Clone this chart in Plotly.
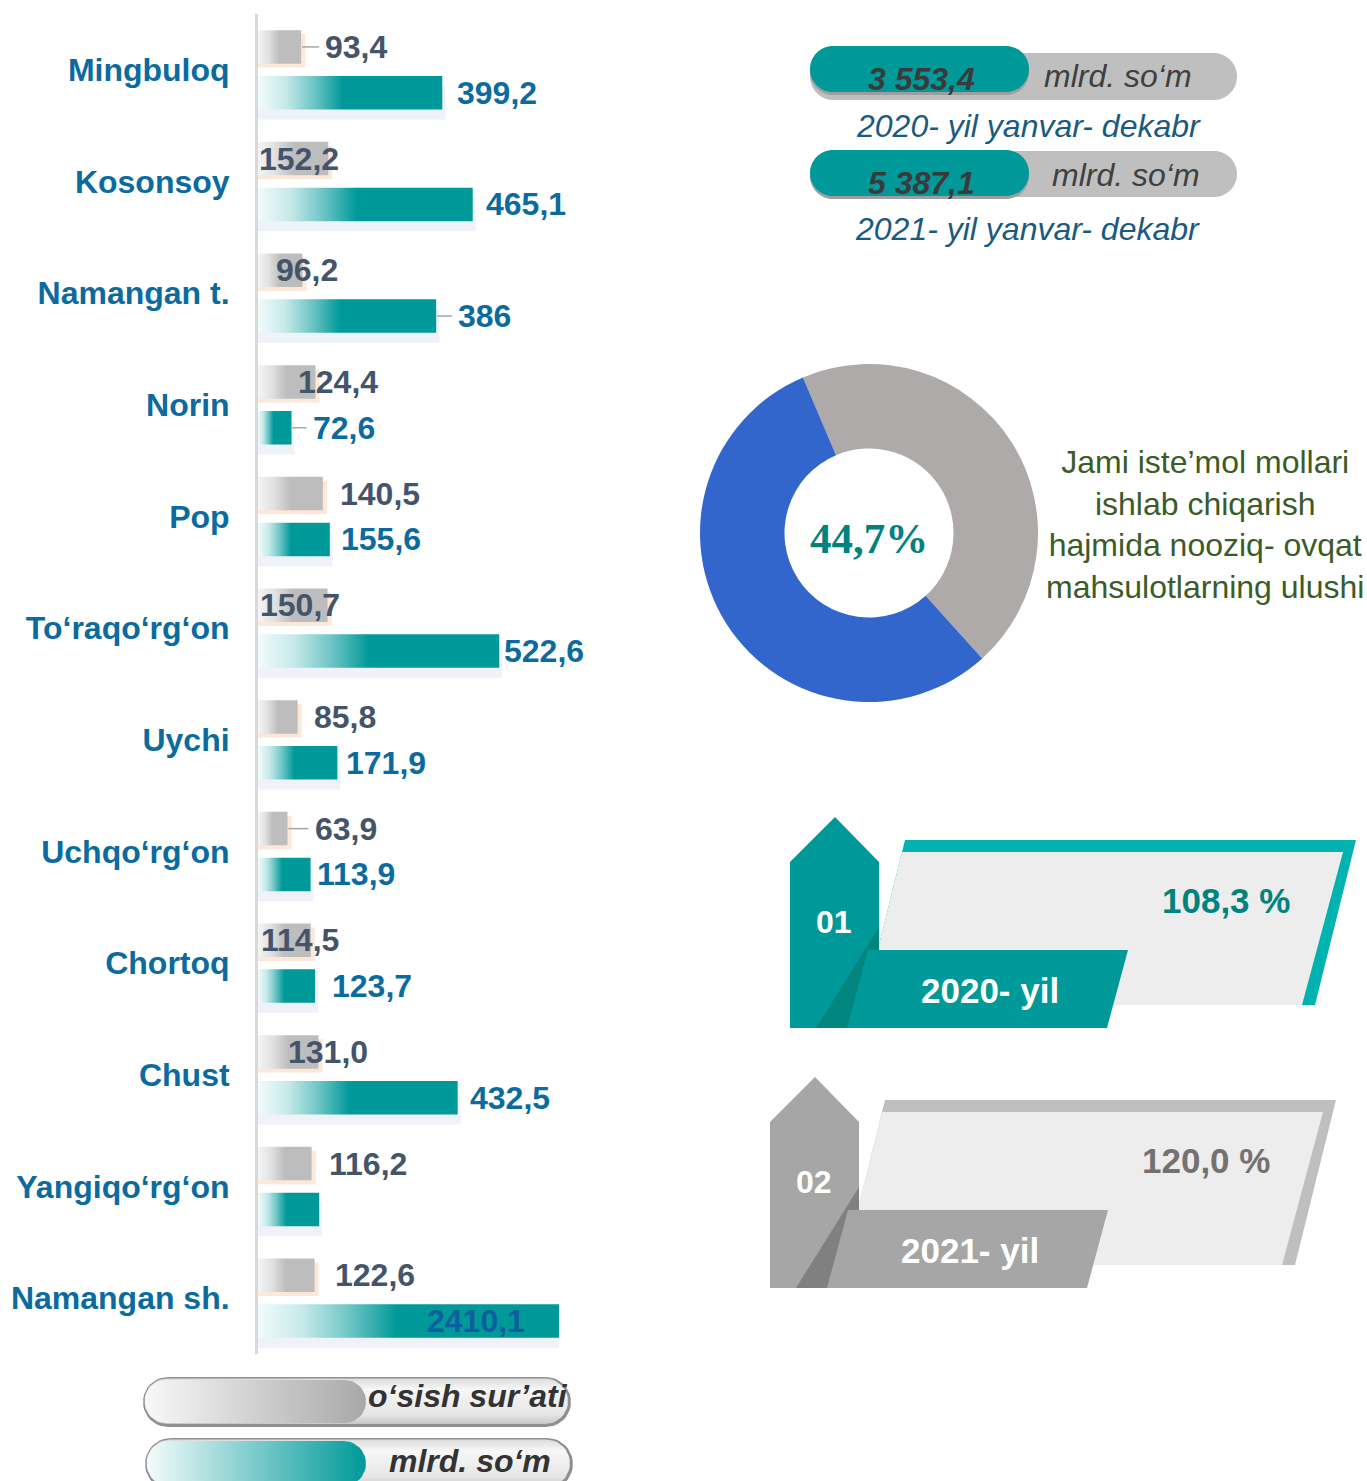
import plotly.graph_objects as go

W, H = 1367, 1481

# ---------------- data ----------------
districts = ["Mingbuloq", "Kosonsoy", "Namangan t.", "Norin", "Pop", "To‘raqo‘rg‘on",
             "Uychi", "Uchqo‘rg‘on", "Chortoq", "Chust", "Yangiqo‘rg‘on", "Namangan sh."]
growth_rate = [93.4, 152.2, 96.2, 124.4, 140.5, 150.7, 85.8, 63.9, 114.5, 131.0, 116.2, 122.6]
volume_bln = [399.2, 465.1, 386.0, 72.6, 155.6, 522.6, 171.9, 113.9, 123.7, 432.5, 132.6, 2410.1]
volume_labels = ["399,2", "465,1", "386", "72,6", "155,6", "522,6", "171,9", "113,9",
                 "123,7", "432,5", "", "2410,1"]

total_periods = ["2020- yil yanvar- dekabr", "2021- yil yanvar- dekabr"]
total_output = [3553.4, 5387.1]
index_years = ["2020- yil", "2021- yil"]
index_numbers = ["01", "02"]
growth_index = [108.3, 120.0]

share_labels = ["Nooziq-ovqat mahsulotlari", "Boshqa mahsulotlar"]
share_values = [44.7, 55.3]
share_text = "Jami iste’mol mollari<br>ishlab chiqarish<br>hajmida nooziq- ovqat<br>mahsulotlarning ulushi"

legend_names = ["o‘sish sur’ati", "mlrd. so‘m"]

# ---------------- style ----------------
FONT = "Liberation Sans, Arial, sans-serif"
TEAL = "#009999"
GRAY = "#bdbdbd"
CAT_COLOR = "#0b6b9f"
GRAY_LBL = "#44546a"
XMAX = 652
BAR_H = 0.30
OFF = 0.205
PX = XMAX / 301.0  # data units per pixel on bar axis
LBL = 32

# label offsets (pixels from bar end) and leader flags
gray_dx = [22, -71, -28, -19, 15, -70, 14, 25, -52, -32, 15, 18]
teal_dx = [13, 11, 20, 19, 9, 3, 7, 4, 15, 10, 0, -32]
gray_leader = [True, False, False, False, False, False, False, True, False, False, False, False]
teal_leader = [False, False, True, True, False, False, False, False, False, False, False, False]


def fmt(v):
    return f"{v:.1f}".replace(".", ",")


def fmt_th(v):
    return f"{v:,.1f}".replace(",", " ").replace(".", ",")


fig = go.Figure()


def rect(v, c, h=BAR_H, extra=0.0):
    return ([0, v + extra, v + extra, 0, 0],
            [c - h / 2, c - h / 2, c + h / 2, c + h / 2, c - h / 2])


# soft shadows behind bars
for i, (g, v) in enumerate(zip(growth_rate, volume_bln)):
    xs, ys = rect(g, i - OFF + 0.035, extra=4 * PX)
    fig.add_trace(go.Scatter(x=xs, y=ys, fill="toself", mode="lines", line=dict(width=0),
                             fillcolor="rgba(250,210,180,0.5)", hoverinfo="skip", showlegend=False))
    xs, ys = rect(v, i + OFF + 0.09, extra=3 * PX)
    fig.add_trace(go.Scatter(x=xs, y=ys, fill="toself", mode="lines", line=dict(width=0),
                             fillcolor="rgba(225,231,244,0.55)", hoverinfo="skip", showlegend=False))

# bars
for i, (g, v) in enumerate(zip(growth_rate, volume_bln)):
    xs, ys = rect(g, i - OFF)
    fig.add_trace(go.Scatter(
        x=xs, y=ys, fill="toself", mode="lines", line=dict(width=0), name=legend_names[0],
        fillgradient=dict(type="horizontal", start=0, stop=min(g, XMAX),
                          colorscale=[[0, "#f5f5f5"], [0.25, "#e0e0e0"], [0.5, GRAY], [1, GRAY]]),
        hoverinfo="skip", showlegend=False))
    xs, ys = rect(v, i + OFF)
    fig.add_trace(go.Scatter(
        x=xs, y=ys, fill="toself", mode="lines", line=dict(width=0), name=legend_names[1],
        fillgradient=dict(type="horizontal", start=0, stop=min(v, XMAX),
                          colorscale=[[0, "#f2fbfb"], [0.15, "#c6e9e9"], [0.3, "#70c6c6"],
                                      [0.46, TEAL], [1, TEAL]]),
        hoverinfo="skip", showlegend=False))

annotations = []
shapes = []

# value labels
for i, (g, v) in enumerate(zip(growth_rate, volume_bln)):
    annotations.append(dict(x=g, y=i - OFF, xref="x", yref="y", text=f"<b>{fmt(g)}</b>",
                            xanchor="left", yanchor="middle", xshift=gray_dx[i], showarrow=False,
                            font=dict(family=FONT, size=LBL, color=GRAY_LBL)))
    if gray_leader[i]:
        shapes.append(dict(type="line", xref="x", yref="y", xsizemode="pixel", xanchor=g,
                           x0=1, x1=gray_dx[i] - 4, y0=i - OFF, y1=i - OFF,
                           line=dict(color="#a6a6a6", width=1.5)))
    if volume_labels[i]:
        if v > XMAX:
            annotations.append(dict(x=XMAX * 0.999, y=i + OFF, xref="x", yref="y",
                                    text=f"<b>{volume_labels[i]}</b>", xanchor="right",
                                    yanchor="middle", xshift=teal_dx[i], showarrow=False,
                                    font=dict(family=FONT, size=LBL, color="#0f5f9e")))
        else:
            annotations.append(dict(x=v, y=i + OFF, xref="x", yref="y",
                                    text=f"<b>{volume_labels[i]}</b>", xanchor="left",
                                    yanchor="middle", xshift=teal_dx[i], showarrow=False,
                                    font=dict(family=FONT, size=LBL, color=CAT_COLOR)))
        if teal_leader[i]:
            shapes.append(dict(type="line", xref="x", yref="y", xsizemode="pixel", xanchor=v,
                               x0=1, x1=teal_dx[i] - 4, y0=i + OFF, y1=i + OFF,
                               line=dict(color="#a6a6a6", width=1.5)))


# ---------------- decoration helpers (pixel overlay axis x2/y2) ----------------
def poly_path(pts, dx=0, dy=0):
    return "M " + " L ".join(f"{x + dx},{y + dy}" for x, y in pts) + " Z"


def pill_path(x0, y0, x1, y1):
    r = (y1 - y0) / 2.0
    cy = (y0 + y1) / 2.0
    k = 0.5523 * r
    return (f"M {x0 + r},{y0} L {x1 - r},{y0} "
            f"C {x1 - r + k},{y0} {x1},{cy - k} {x1},{cy} "
            f"C {x1},{cy + k} {x1 - r + k},{y1} {x1 - r},{y1} "
            f"L {x0 + r},{y1} "
            f"C {x0 + r - k},{y1} {x0},{cy + k} {x0},{cy} "
            f"C {x0},{cy - k} {x0 + r - k},{y0} {x0 + r},{y0} Z")


def pill_pts(x0, y0, x1, y1, n=20):
    import math
    r = (y1 - y0) / 2.0
    cy = (y0 + y1) / 2.0
    xs, ys = [], []
    for j in range(n + 1):
        a = -math.pi / 2 + math.pi * j / n
        xs.append(x1 - r + r * math.cos(a)); ys.append(cy + r * math.sin(a))
    for j in range(n + 1):
        a = math.pi / 2 + math.pi * j / n
        xs.append(x0 + r + r * math.cos(a)); ys.append(cy + r * math.sin(a))
    xs.append(xs[0]); ys.append(ys[0])
    return xs, ys


def deco_shape(path, color, layer="above"):
    return dict(type="path", path=path, xref="x2", yref="y2", fillcolor=color,
                line=dict(width=0), layer=layer)


def deco_text(x, y, text, size, color, family=FONT, xanchor="center"):
    return dict(x=x, y=y, xref="x2", yref="y2", text=text, showarrow=False,
                xanchor=xanchor, yanchor="middle", font=dict(family=family, size=size, color=color))


# ---------------- top right totals ----------------
pill_rows = [((810, 53, 1237, 100), (810, 46, 1029, 92), (921, 79), (1118, 76), (1028, 126)),
             ((810, 151, 1237, 197), (810, 150, 1029, 196), (921, 183), (1126, 175), (1027, 229))]
for (gbox, tbox, vpos, upos, spos), val, per in zip(pill_rows, total_output, total_periods):
    shapes.append(deco_shape(pill_path(*gbox), "#bfbfbf"))
    shapes.append(deco_shape(pill_path(tbox[0], tbox[1] + 3, tbox[2], tbox[3] + 3), "#9e9e9e"))
    shapes.append(deco_shape(pill_path(*tbox), TEAL))
    annotations.append(deco_text(vpos[0], vpos[1], f"<b><i>{fmt_th(val)}</i></b>", 32, "#3a3a3a"))
    annotations.append(deco_text(upos[0], upos[1], f"<i>{legend_names[1]}</i>", 32, "#404040"))
    annotations.append(deco_text(spos[0], spos[1], f"<i>{per}</i>", 32, "#1b5a7e"))

# ---------------- donut ----------------
fig.add_trace(go.Pie(values=share_values, labels=share_labels, hole=0.5, sort=False,
                     direction="clockwise", rotation=-23,
                     marker=dict(colors=["#aeaaaa", "#3366cc"], line=dict(width=0)),
                     textinfo="none", hoverinfo="label+percent", showlegend=False,
                     domain=dict(x=[700 / W, 1038 / W], y=[1 - 706 / H, 1 - 360 / H])))
annotations.append(deco_text(869, 538, f"<b>{fmt(share_values[0])}%</b>", 43, "#00827f",
                             family="Liberation Serif, Times New Roman, serif"))
annotations.append(deco_text(1205, 524, share_text, 32, "#3b5b27"))

# ---------------- growth index blocks ----------------
block_styles = [
    dict(dx=0, dy=0, main=TEAL, border="#00b3b0", dark="#00857f", val="#00827f"),
    dict(dx=-20, dy=260, main="#a6a6a6", border="#bfbfbf", dark="#808080", val="#767171"),
]
BORDER = [(905, 840), (1356, 840), (1315, 1005), (864, 1005)]
FILL = [(902, 852), (1343, 852), (1302, 1005), (864, 1005)]
TAG = [(790, 862), (835, 817), (879, 862), (879, 1028), (790, 1028)]
BAND = [(868, 950), (1128, 950), (1107, 1028), (847, 1028)]
DARK = [(879, 927), (879, 950), (868, 950), (847, 1028), (816, 1028)]
for st, num, yr, gi in zip(block_styles, index_numbers, index_years, growth_index):
    dx, dy = st["dx"], st["dy"]
    shapes.append(deco_shape(poly_path(BORDER, dx, dy), st["border"]))
    shapes.append(deco_shape(poly_path(FILL, dx, dy), "#ededed"))
    shapes.append(deco_shape(poly_path(TAG, dx, dy), st["main"]))
    shapes.append(deco_shape(poly_path(BAND, dx, dy), st["main"]))
    shapes.append(deco_shape(poly_path(DARK, dx, dy), st["dark"]))
    annotations.append(deco_text(834 + dx, 922 + dy, f"<b>{num}</b>", 32, "white"))
    annotations.append(deco_text(990 + dx, 990 + dy, f"<b>{yr}</b>", 35, "white"))
    annotations.append(deco_text(1226 + dx, 900 + dy, f"<b>{fmt(gi)} %</b>", 35, st["val"]))

# ---------------- legend pills (bottom left) ----------------
legend_rows = [((143, 1377, 571, 1427), (145, 1380, 366, 1423), (468, 1396),
                [[0, "#f8f8f8"], [1, "#a8a8a8"]]),
               ((145, 1438, 573, 1490), (147, 1441, 366, 1486), (470, 1461),
                [[0, "#f4fbfb"], [1, TEAL]])]
for (obox, ibox, tpos, cs), name in zip(legend_rows, legend_names):
    xs, ys = pill_pts(*obox)
    fig.add_trace(go.Scatter(x=xs, y=ys, xaxis="x2", yaxis="y2", fill="toself", mode="lines",
                             line=dict(width=0), fillcolor="#8f8f8f", hoverinfo="skip",
                             showlegend=False))
    xs, ys = pill_pts(obox[0] + 1.5, obox[1] + 1.5, obox[2] - 3, obox[3] - 3)
    fig.add_trace(go.Scatter(x=xs, y=ys, xaxis="x2", yaxis="y2", fill="toself", mode="lines",
                             line=dict(width=0), hoverinfo="skip", showlegend=False,
                             fillgradient=dict(type="vertical", start=obox[1], stop=obox[3],
                                               colorscale=[[0, "#d9d9d9"], [0.25, "#f7f7f7"],
                                                           [0.75, "#e6e6e6"], [1, "#bdbdbd"]])))
    xs, ys = pill_pts(*ibox)
    fig.add_trace(go.Scatter(x=xs, y=ys, xaxis="x2", yaxis="y2", fill="toself", mode="lines",
                             line=dict(width=0), hoverinfo="skip", showlegend=False,
                             fillgradient=dict(type="horizontal", start=ibox[0], stop=ibox[2],
                                               colorscale=cs)))
    annotations.append(deco_text(tpos[0], tpos[1], f"<b><i>{name}</i></b>", 32, "#333333"))

fig.update_layout(
    width=W, height=H,
    margin=dict(l=0, r=0, t=0, b=0),
    paper_bgcolor="white", plot_bgcolor="rgba(0,0,0,0)",
    showlegend=False,
    font=dict(family=FONT),
    xaxis=dict(domain=[258 / W, 559 / W], range=[0, XMAX], visible=False, fixedrange=True),
    yaxis=dict(domain=[1 - 1354 / H, 1 - 14 / H], range=[11.5, -0.5], tickmode="array",
               tickvals=list(range(len(districts))), ticktext=[f"<b>{d}</b>" for d in districts],
               tickfont=dict(family=FONT, size=32, color=CAT_COLOR), ticks="", ticklabelstandoff=19,
               showline=True, linecolor="#d9d9d9", linewidth=3, showgrid=False, zeroline=False,
               fixedrange=True),
    xaxis2=dict(domain=[0, 1], range=[0, W], visible=False, anchor="y2", fixedrange=True),
    yaxis2=dict(domain=[0, 1], range=[H, 0], visible=False, anchor="x2", fixedrange=True),
    shapes=shapes,
    annotations=annotations,
)

fig.write_html("out.html", config={"displayModeBar": False},
               post_script="document.body.style.margin='0px';document.body.style.overflow='hidden';")
